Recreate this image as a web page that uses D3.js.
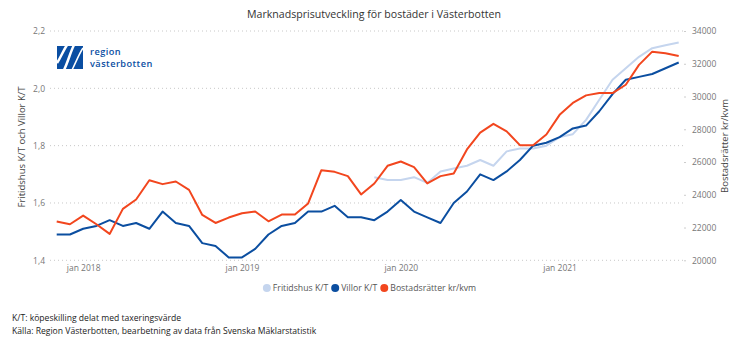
<!DOCTYPE html>
<html>
<head>
<meta charset="utf-8">
<script src="https://cdn.jsdelivr.net/npm/d3@7"></script>
<style>
  body { margin: 0; background: #fff; }
  svg { display: block; font-family: "Open Sans", sans-serif; }
</style>
</head>
<body>
<div id="chart"></div>
<script>
// månader nov 2017 - okt 2021
const months = d3.timeMonth.range(new Date(2017, 10, 1), new Date(2021, 10, 1));

// Fritidshus K/T (saknas före nov 2019)
const fritidshus = [
  null, null, null, null, null, null, null, null, null, null, null, null, null, null,
  null, null, null, null, null, null, null, null, null, null, 1.69, 1.68,
  1.68, 1.69, 1.67, 1.71, 1.72, 1.73, 1.75, 1.73, 1.78, 1.79, 1.79, 1.80,
  1.83, 1.84, 1.89, 1.96, 2.03, 2.07, 2.11, 2.14, 2.15, 2.16
];

// Villor K/T
const villor = [
  1.49, 1.49, 1.51, 1.52, 1.54, 1.52, 1.53, 1.51, 1.57, 1.53, 1.52, 1.46, 1.45, 1.41,
  1.41, 1.44, 1.49, 1.52, 1.53, 1.57, 1.57, 1.59, 1.55, 1.55, 1.54, 1.57,
  1.61, 1.57, 1.55, 1.53, 1.60, 1.64, 1.70, 1.68, 1.71, 1.75, 1.80, 1.81,
  1.83, 1.86, 1.87, 1.92, 1.98, 2.03, 2.04, 2.05, 2.07, 2.09
];

// Bostadsrätter kr/kvm
const bostadsratter = [
  22370, 22200, 22730, 22200, 21610, 23140, 23710, 24890, 24650, 24810, 24300, 22770, 22280, 22610,
  22870, 22980, 22380, 22790, 22790, 23470, 25500, 25400, 25140, 24020, 24690, 25770,
  26030, 25690, 24690, 25140, 25300, 26770, 27800, 28330, 27870, 27030, 27030, 27680,
  28880, 29610, 30070, 30210, 30210, 30720, 31930, 32740, 32640, 32470
];

const leftTicks = [1.4, 1.6, 1.8, 2.0, 2.2];
const rightTicks = [20000, 22000, 24000, 26000, 28000, 30000, 32000, 34000];
const seriesNames = ["Fritidshus K/T", "Villor K/T", "Bostadsrätter kr/kvm"];

const width = 746, height = 350;
const colFritid = "#c5d5ee", colVillor = "#0b4ea0", colBr = "#f2461e";

const svg = d3.select("#chart").append("svg")
  .attr("width", width)
  .attr("height", height);

const x = d3.scalePoint()
  .domain(months.map((d, i) => i))
  .range([56.7, 678.7]);

const yL = d3.scaleLinear().domain([1.4, 2.2]).range([260.3, 31]);
const yR = d3.scaleLinear().domain([20000, 34000]).range([260.3, 31]);

// rubrik
svg.append("text")
  .attr("x", 374).attr("y", 17.5)
  .attr("text-anchor", "middle")
  .style("font-size", "10.6px")
  .style("fill", "#333")
  .text("Marknadsprisutveckling för bostäder i Västerbotten");

// rutnät
svg.append("g")
  .selectAll("line")
  .data(leftTicks)
  .join("line")
  .attr("x1", 50).attr("x2", 684)
  .attr("y1", d => yL(d)).attr("y2", d => yL(d))
  .attr("stroke", "#c8c8c8")
  .attr("stroke-dasharray", "1,3");

// vänster axel
const gL = svg.append("g")
  .attr("transform", "translate(48,0)")
  .call(d3.axisLeft(yL).tickValues(leftTicks).tickSize(0).tickPadding(3)
    .tickFormat(d => d3.format(".1f")(d).replace(".", ",")));
gL.select(".domain").remove();
gL.selectAll("text").style("font-size", "8.5px").style("fill", "#777").style("font-family", "Open Sans");

// höger axel
const gR = svg.append("g")
  .attr("transform", "translate(684,0)")
  .call(d3.axisRight(yR).tickValues(rightTicks).tickSize(2).tickPadding(6).tickFormat(d3.format("d")));
gR.select(".domain").remove();
gR.selectAll("line").attr("stroke", "#ccc");
gR.selectAll("text").style("font-size", "8.5px").style("fill", "#777").style("font-family", "Open Sans");

// x-axel
const jan = months.map((d, i) => i).filter(i => months[i].getMonth() === 0);
const gX = svg.append("g")
  .attr("transform", "translate(0,260)")
  .call(d3.axisBottom(x).tickValues(jan).tickSize(0).tickPadding(5)
    .tickFormat(i => "jan " + months[i].getFullYear()));
gX.select(".domain").remove();
gX.selectAll("text").style("font-size", "8.5px").style("fill", "#777").style("font-family", "Open Sans");

// axeltitlar
svg.append("text")
  .attr("transform", "translate(25,147) rotate(-90)")
  .attr("text-anchor", "middle")
  .style("font-size", "9.5px")
  .style("fill", "#444")
  .text("Fritidshus K/T och Villor K/T");

svg.append("text")
  .attr("transform", "translate(728,146) rotate(-90)")
  .attr("text-anchor", "middle")
  .style("font-size", "9.5px")
  .style("fill", "#444")
  .text("Bostadsrätter kr/kvm");

// linjer
const lineL = d3.line()
  .defined(d => d[1] != null)
  .x(d => x(d[0]))
  .y(d => yL(d[1]));
const lineR = d3.line()
  .x(d => x(d[0]))
  .y(d => yR(d[1]));

svg.append("path")
  .datum(fritidshus.map((v, i) => [i, v]))
  .attr("fill", "none").attr("stroke", colFritid).attr("stroke-width", 2)
  .attr("stroke-linejoin", "round")
  .attr("d", lineL);

svg.append("path")
  .datum(villor.map((v, i) => [i, v]))
  .attr("fill", "none").attr("stroke", colVillor).attr("stroke-width", 2)
  .attr("stroke-linejoin", "round")
  .attr("d", lineL);

svg.append("path")
  .datum(bostadsratter.map((v, i) => [i, v]))
  .attr("fill", "none").attr("stroke", colBr).attr("stroke-width", 2)
  .attr("stroke-linejoin", "round")
  .attr("d", lineR);

// legend, läggs ut i följd och centreras
const legColors = [colFritid, colVillor, colBr];
const lg = svg.append("g");
let lx = 0;
seriesNames.forEach((name, i) => {
  const g = lg.append("g").attr("transform", "translate(" + lx + ",0)");
  g.append("circle").attr("cx", 4).attr("r", 4).attr("fill", legColors[i]);
  const t = g.append("text")
    .attr("x", 10).attr("y", 3.2)
    .style("font-size", "8.7px")
    .style("fill", "#555")
    .text(name);
  lx += 10 + t.node().getComputedTextLength() + 3;
});
lg.attr("transform", "translate(" + (371 - lx / 2) + ",288)");

// logga
const logo = svg.append("g");
logo.append("rect").attr("x", 57).attr("y", 46).attr("width", 26).attr("height", 23).attr("fill", "#0a4ea2");
logo.append("path").attr("d", "M57,63 C61,57 63,51 67,45").attr("stroke", "#fff").attr("stroke-width", 2.5).attr("fill", "none");
logo.append("path").attr("d", "M64,70 C68,62 70,53 74,45").attr("stroke", "#fff").attr("stroke-width", 2.5).attr("fill", "none");
logo.append("path").attr("d", "M72,70 C76,62 79,54 83,48").attr("stroke", "#fff").attr("stroke-width", 1.5).attr("fill", "none");
const logoText = logo.append("text")
  .style("font-size", "9.2px").style("font-weight", 600).style("letter-spacing", "0.45px").style("fill", "#0a4ea2");
logoText.append("tspan").attr("x", 90).attr("y", 54.8).text("region");
logoText.append("tspan").attr("x", 90).attr("y", 67.4).text("västerbotten");

// fotnoter
svg.append("text").attr("x", 12).attr("y", 321)
  .style("font-size", "8.6px").style("fill", "#222")
  .text("K/T: köpeskilling delat med taxeringsvärde");
svg.append("text").attr("x", 12).attr("y", 334)
  .style("font-size", "8.6px").style("fill", "#222")
  .text("Källa: Region Västerbotten, bearbetning av data från Svenska Mäklarstatistik");
</script>
</body>
</html>
